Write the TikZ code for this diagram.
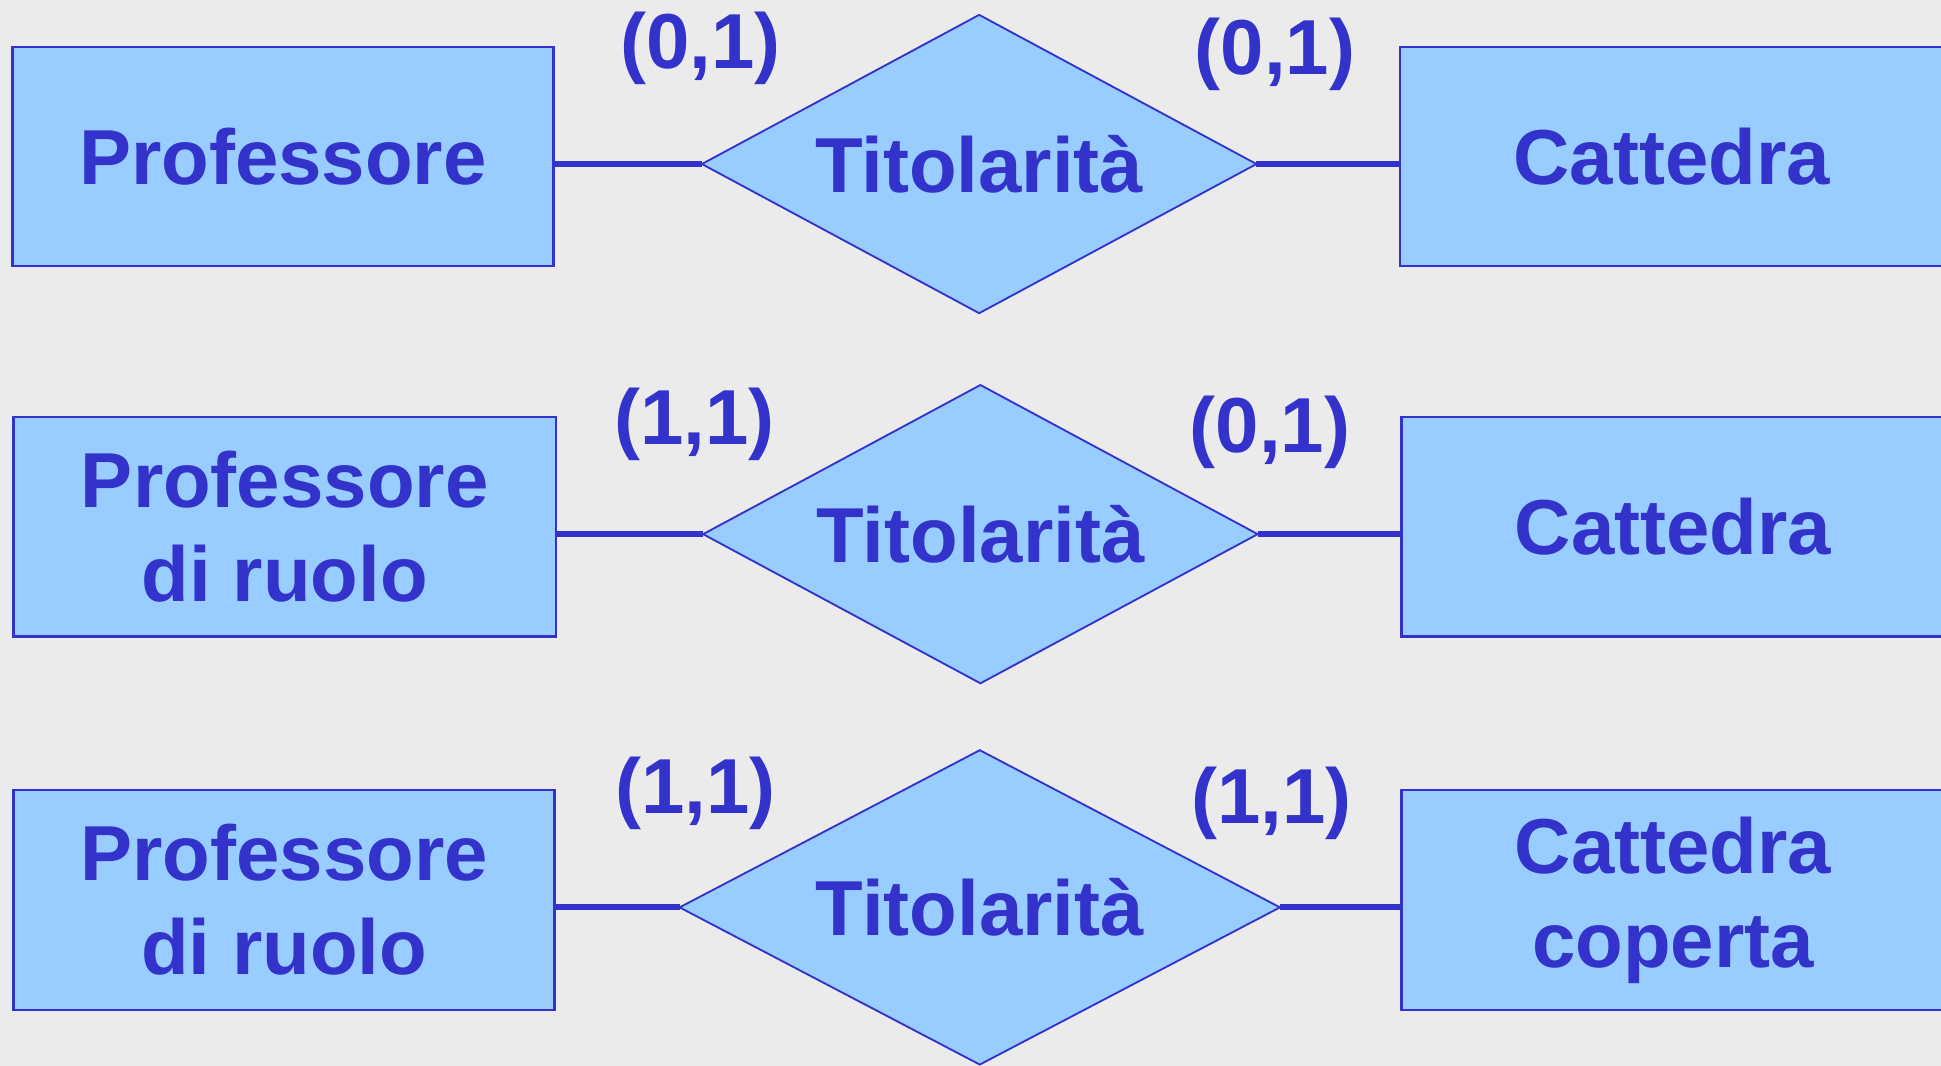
\documentclass[tikz,border=0pt]{standalone}
\usepackage{fontspec}
\setmainfont{Liberation Sans}
\usetikzlibrary{shapes.geometric}
\definecolor{erblue}{HTML}{3333CC}
\definecolor{erfill}{HTML}{99CCFF}
\definecolor{erbg}{HTML}{EBEBEB}
\tikzset{
  ertext/.style={text=erblue, font=\bfseries\fontsize{18.9}{22.8}\selectfont, align=center},
  entity/.style={ertext, draw=erblue, fill=erfill, line width=0.6pt, inner sep=0pt, outer sep=0pt},
  relation/.style={ertext, shape=diamond, aspect=2, draw=erblue, fill=erfill, line width=0.45pt, inner sep=0pt, outer sep=0pt},
  card/.style={ertext, inner sep=0pt},
  link/.style={draw=erblue, line width=1.5pt}
}
\begin{document}
\begin{tikzpicture}[x=0.3pt,y=-0.3pt]
\fill[erbg] (0,0) rectangle (1568,861);
\useasboundingbox (0,0) rectangle (1568,861);
% Row 1
\node[entity, minimum width=131.1pt, minimum height=53.1pt] (p1) at (228.5,126.5) {Professore};
\node[relation, minimum width=134.4pt, minimum height=72.3pt] (r1) at (791,132.5) {Titolarità};
\node[entity, minimum width=131.7pt, minimum height=53.1pt] (c1) at (1350.5,126.5) {Cattedra};
\draw[link] (p1.east |- r1.west) -- (r1.west);
\draw[link] (r1.east) -- (c1.west |- r1.east);
\node[card] (l1) at (566,39) {(0,1)};
\node[card] (m1) at (1030,44) {(0,1)};
% Row 2
\node[entity, minimum width=131.4pt, minimum height=53.1pt] (p2) at (230,425.5) {Professore\\di ruolo};
\node[relation, minimum width=134.4pt, minimum height=72.3pt] (r2) at (792,431.5) {Titolarità};
\node[entity, minimum width=131.7pt, minimum height=53.1pt] (c2) at (1351.5,425.5) {Cattedra};
\draw[link] (p2.east |- r2.west) -- (r2.west);
\draw[link] (r2.east) -- (c2.west |- r2.east);
\node[card] (l2) at (561,343) {(1,1)};
\node[card] (m2) at (1026,349) {(0,1)};
% Row 3
\node[entity, minimum width=131.1pt, minimum height=53.4pt] (p3) at (229.5,727) {Professore\\di ruolo};
\node[relation, minimum width=145.5pt, minimum height=76.2pt] (r3) at (791.5,733) {Titolarità};
\node[entity, minimum width=131.7pt, minimum height=53.4pt] (c3) at (1351.5,727) {Cattedra\\coperta};
\draw[link] (p3.east |- r3.west) -- (r3.west);
\draw[link] (r3.east) -- (c3.west |- r3.east);
\node[card] (l3) at (562,641) {(1,1)};
\node[card] (m3) at (1027,649) {(1,1)};
\end{tikzpicture}
\end{document}
